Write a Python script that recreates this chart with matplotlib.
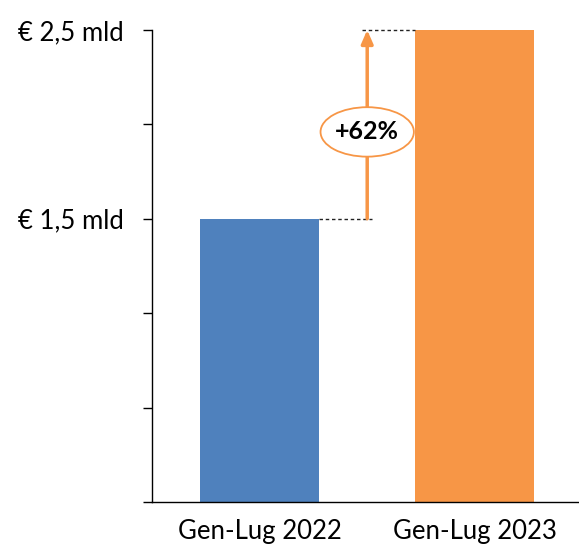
import matplotlib
matplotlib.use("Agg")
import matplotlib.pyplot as plt
from matplotlib.patches import Ellipse

# data
categories = ["Gen-Lug 2022", "Gen-Lug 2023"]
values = [1.5, 2.5]
bar_colors = ["#4F81BD", "#F79646"]
ytick_values = [0, 0.5, 1.0, 1.5, 2.0, 2.5]
ytick_labels = ["", "", "", "€ 1,5 mld", "", "€ 2,5 mld"]
growth_label = "+62%"

plt.rcParams["font.family"] = ["Lato", "DejaVu Sans"]

fig = plt.figure(figsize=(5.79, 5.45), dpi=100)
ax = fig.add_axes([0.2625, 0.079, 0.7375, 0.866])

bar_w = 0.555
x = list(range(len(categories)))
ax.bar(x, values, width=bar_w, color=bar_colors, zorder=2)

ax.set_xlim(-0.503, 1.487)
ax.set_ylim(0, 2.5)

ax.set_xticks(x)
ax.set_xticklabels(categories, fontsize=18.5)
ax.tick_params(axis="x", length=0, pad=12)
ax.set_yticks(ytick_values)
ax.set_yticklabels(ytick_labels, fontsize=18.5)
ax.tick_params(axis="y", direction="out", length=6.5, width=1, pad=14)

for s in ["top", "right"]:
    ax.spines[s].set_visible(False)
ax.spines["left"].set_linewidth(1)
ax.spines["bottom"].set_linewidth(1)

# dotted connectors
mid = 0.5
ax.plot([bar_w / 2, mid + 0.02], [values[0], values[0]], ls=(0, (2.5, 2)),
        color="#222222", lw=1.0, clip_on=False, zorder=3)
ax.plot([mid - 0.025, 1 - bar_w / 2], [values[1], values[1]], ls=(0, (2.5, 2)),
        color="#222222", lw=1.0, clip_on=False, zorder=3)

# growth arrow
ax.annotate("", xy=(mid, values[1]), xytext=(mid, values[0]),
            arrowprops=dict(arrowstyle="-|>,head_width=0.35,head_length=0.8",
                            color="#F79646", lw=2.5, shrinkA=0, shrinkB=0),
            annotation_clip=False, zorder=4)

# label in an ellipse
ax.add_patch(Ellipse((mid, 1.96), 0.435, 0.262, fc="white", ec="#F79646",
                     lw=1.3, zorder=5))
ax.text(mid, 1.96, growth_label, ha="center", va="center", fontsize=18,
        fontweight="bold", color="black", zorder=6)

fig.savefig("out.png", dpi=100)
